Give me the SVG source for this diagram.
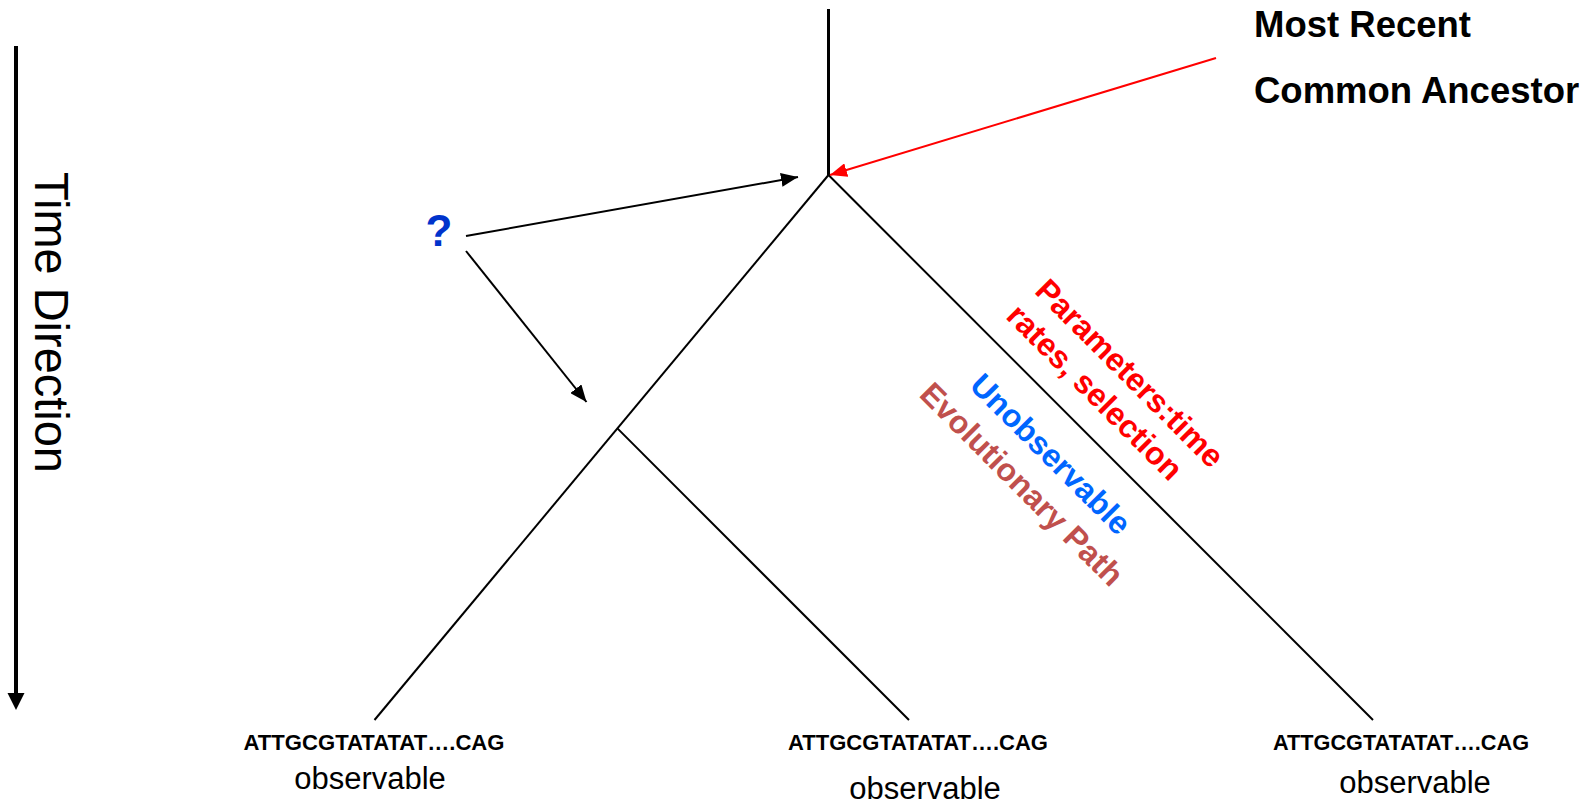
<svg xmlns="http://www.w3.org/2000/svg" width="1592" height="803" viewBox="0 0 1592 803">
  <style>
    .sans { font-family: "Liberation Sans", Arial, sans-serif; }
    .bold { font-weight: bold; }
    .branch { stroke: #000; stroke-width: 2; fill: none; }
    .stem { stroke: #000; stroke-width: 3; fill: none; }
    .arrow { stroke: #000; stroke-width: 2; fill: none; marker-end: url(#headBlack); }
    .redarrow { stroke: #FF0000; stroke-width: 2; fill: none; marker-end: url(#headRed); }
    .seq { font-size: 22px; font-weight: bold; fill: #000; }
    .obs { font-size: 31px; fill: #000; }
    .diag { font-size: 32px; font-weight: bold; }
  </style>
  <defs>
    <marker id="headBlack" markerUnits="userSpaceOnUse" markerWidth="17" markerHeight="14" refX="17" refY="7" orient="auto">
      <path d="M0,0 L17,7 L0,14 z" fill="#000"/>
    </marker>
    <marker id="headRed" markerUnits="userSpaceOnUse" markerWidth="17" markerHeight="14" refX="17" refY="7" orient="auto">
      <path d="M0,0 L17,7 L0,14 z" fill="#FF0000"/>
    </marker>
  </defs>
  <rect width="1592" height="803" fill="#fff"/>

  <g id="time-axis">
    <line x1="16" y1="46" x2="16" y2="696" stroke="#000" stroke-width="4"/>
    <polygon points="7.5,693 24.5,693 16,710" fill="#000"/>
    <text class="sans" font-size="49" fill="#000" transform="translate(35,172) rotate(90)" textLength="301" lengthAdjust="spacingAndGlyphs">Time Direction</text>
  </g>

  <g id="connectors">
    <line class="stem" x1="828.5" y1="9" x2="828.5" y2="175"/>
    <line class="branch" x1="828.5" y1="175" x2="374.5" y2="720"/>
    <line class="branch" x1="828.5" y1="175" x2="1373" y2="720"/>
    <line class="branch" x1="617.4" y1="428.4" x2="909" y2="720"/>
    <line class="arrow" x1="466" y1="236" x2="798" y2="177"/>
    <line class="arrow" x1="466" y1="251" x2="586.5" y2="402"/>
    <line class="redarrow" x1="1216" y1="58" x2="830" y2="175"/>
  </g>

  <g id="mrca-label">
    <text class="sans bold" font-size="36.5" fill="#000" x="1254" y="37">Most Recent</text>
    <text class="sans bold" font-size="36.5" fill="#000" x="1254" y="103">Common Ancestor</text>
  </g>

  <g id="question">
    <text class="sans bold" font-size="44" fill="#0033CC" x="439" y="246" text-anchor="middle">?</text>
  </g>

  <g id="branch-labels">
    <text class="sans diag" fill="#FF0000" transform="translate(1130,373) rotate(45)" text-anchor="middle" dy="0.35em">Parameters:time</text>
    <text class="sans diag" fill="#FF0000" transform="translate(1095,392) rotate(45)" text-anchor="middle" dy="0.35em">rates, selection</text>
    <text class="sans diag" fill="#0066FF" transform="translate(1051,454) rotate(45)" text-anchor="middle" dy="0.35em">Unobservable</text>
    <text class="sans diag" fill="#C0504D" transform="translate(1022,484) rotate(45)" text-anchor="middle" dy="0.35em">Evolutionary Path</text>
  </g>

  <g id="leaf-1">
    <text class="sans seq" x="243.5" y="750" textLength="261" lengthAdjust="spacingAndGlyphs">ATTGCGTATATAT….CAG</text>
    <text class="sans obs" x="370" y="789" text-anchor="middle">observable</text>
  </g>
  <g id="leaf-2">
    <text class="sans seq" x="788" y="750" textLength="260" lengthAdjust="spacingAndGlyphs">ATTGCGTATATAT….CAG</text>
    <text class="sans obs" x="925" y="799" text-anchor="middle">observable</text>
  </g>
  <g id="leaf-3">
    <text class="sans seq" x="1273" y="750" textLength="256" lengthAdjust="spacingAndGlyphs">ATTGCGTATATAT….CAG</text>
    <text class="sans obs" x="1415" y="793" text-anchor="middle">observable</text>
  </g>
</svg>
